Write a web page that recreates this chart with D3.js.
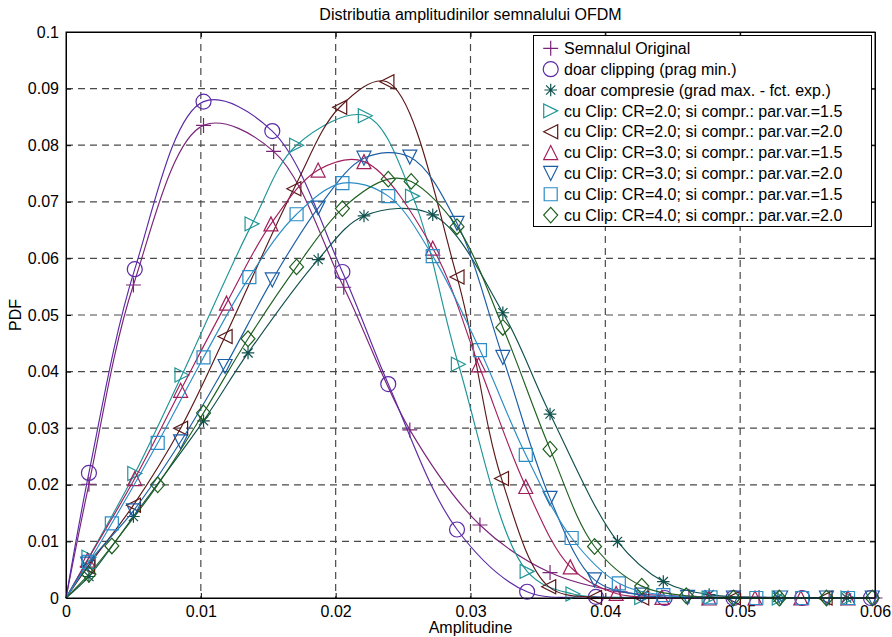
<!DOCTYPE html>
<html><head><meta charset="utf-8">
<script src="https://cdn.jsdelivr.net/npm/d3@7"></script>
<style>
body{margin:0;background:#fff}
text{font-family:"Liberation Sans",Arial,Helvetica,sans-serif;fill:#000}
</style>
</head><body>
<svg id="chart" width="892" height="637"></svg>
<script>
// ---------------- DATA ----------------
const xTickValues = [0, 0.01, 0.02, 0.03, 0.04, 0.05, 0.06];
const xTickLabels = ["0", "0.01", "0.02", "0.03", "0.04", "0.05", "0.06"];
const yTickValues = [0, 0.01, 0.02, 0.03, 0.04, 0.05, 0.06, 0.07, 0.08, 0.09, 0.1];
const yTickLabels = ["0", "0.01", "0.02", "0.03", "0.04", "0.05", "0.06", "0.07", "0.08", "0.09", "0.1"];

const seriesNames = [
  "Semnalul Original",
  "doar clipping (prag min.)",
  "doar compresie (grad max. - fct. exp.)",
  "cu Clip: CR=2.0; si compr.: par.var.=1.5",
  "cu Clip: CR=2.0; si compr.: par.var.=2.0",
  "cu Clip: CR=3.0; si compr.: par.var.=1.5",
  "cu Clip: CR=3.0; si compr.: par.var.=2.0",
  "cu Clip: CR=4.0; si compr.: par.var.=1.5",
  "cu Clip: CR=4.0; si compr.: par.var.=2.0"
];

const xOriginal = [0.0017, 0.0050, 0.0102, 0.0154, 0.0206, 0.0255, 0.0307, 0.0359, 0.0411, 0.0462, 0.0514, 0.0566, 0.0600];
const yOriginal = [0.0201, 0.0553, 0.0835, 0.0789, 0.0549, 0.0297, 0.0129, 0.0045, 0.0011, 0.0003, 0.0001, 0.0000, 0.0000];

const xClipping = [0.0017, 0.0051, 0.0102, 0.0153, 0.0205, 0.0239, 0.0290, 0.0342, 0.0393, 0.0444, 0.0495, 0.0546, 0.0597];
const yClipping = [0.0221, 0.0581, 0.0877, 0.0825, 0.0576, 0.0378, 0.0121, 0.0011, 0.0002, 0.0000, 0.0000, 0.0000, 0.0000];

const xCompresie = [0.0017, 0.0050, 0.0102, 0.0135, 0.0187, 0.0221, 0.0272, 0.0324, 0.0359, 0.0409, 0.0443, 0.0477, 0.0528, 0.0579];
const yCompresie = [0.0038, 0.0144, 0.0313, 0.0433, 0.0598, 0.0675, 0.0677, 0.0504, 0.0325, 0.0100, 0.0029, 0.0006, 0.0001, 0.0000];

const xCR2v15 = [0.0017, 0.0051, 0.0086, 0.0138, 0.0171, 0.0222, 0.0257, 0.0291, 0.0342, 0.0376, 0.0427, 0.0477, 0.0529, 0.0580];
const yCR2v15 = [0.0072, 0.0220, 0.0394, 0.0661, 0.0800, 0.0852, 0.0710, 0.0413, 0.0047, 0.0007, 0.0001, 0.0000, 0.0000, 0.0000];

const xCR2v20 = [0.0016, 0.0050, 0.0085, 0.0118, 0.0169, 0.0203, 0.0238, 0.0290, 0.0323, 0.0358, 0.0392, 0.0427, 0.0495, 0.0563];
const yCR2v20 = [0.0055, 0.0164, 0.0300, 0.0462, 0.0723, 0.0867, 0.0912, 0.0567, 0.0211, 0.0020, 0.0001, 0.0000, 0.0000, 0.0000];

const xCR3v15 = [0.0016, 0.0051, 0.0085, 0.0119, 0.0152, 0.0187, 0.0221, 0.0272, 0.0306, 0.0341, 0.0374, 0.0408, 0.0442, 0.0477, 0.0511, 0.0545, 0.0580];
const yCR3v15 = [0.0067, 0.0211, 0.0367, 0.0521, 0.0661, 0.0756, 0.0771, 0.0618, 0.0412, 0.0197, 0.0055, 0.0008, 0.0001, 0.0000, 0.0000, 0.0000, 0.0000];

const xCR3v20 = [0.0016, 0.0050, 0.0085, 0.0118, 0.0153, 0.0187, 0.0221, 0.0255, 0.0290, 0.0324, 0.0359, 0.0392, 0.0427, 0.0461, 0.0495, 0.0530, 0.0564, 0.0598];
const yCR3v20 = [0.0060, 0.0154, 0.0276, 0.0409, 0.0562, 0.0689, 0.0777, 0.0779, 0.0662, 0.0425, 0.0176, 0.0032, 0.0005, 0.0001, 0.0000, 0.0000, 0.0000, 0.0000];

const xCR4v15 = [0.0017, 0.0034, 0.0068, 0.0102, 0.0136, 0.0171, 0.0205, 0.0239, 0.0272, 0.0307, 0.0341, 0.0375, 0.0410, 0.0443, 0.0478, 0.0512, 0.0546, 0.0580];
const yCR4v15 = [0.0064, 0.0132, 0.0274, 0.0425, 0.0567, 0.0678, 0.0733, 0.0710, 0.0604, 0.0438, 0.0253, 0.0106, 0.0026, 0.0005, 0.0001, 0.0000, 0.0000, 0.0000];

const xCR4v20 = [0.0017, 0.0034, 0.0068, 0.0102, 0.0135, 0.0171, 0.0205, 0.0239, 0.0256, 0.0290, 0.0324, 0.0359, 0.0392, 0.0427, 0.0460, 0.0495, 0.0529, 0.0564, 0.0598];
const yCR4v20 = [0.0042, 0.0092, 0.0200, 0.0327, 0.0458, 0.0585, 0.0688, 0.0740, 0.0736, 0.0656, 0.0478, 0.0263, 0.0091, 0.0021, 0.0004, 0.0000, 0.0000, 0.0000, 0.0000];

// ---------------- STYLE ----------------
const seriesStyle = [
  {x: xOriginal,  y: yOriginal,  color: "#7a2479", marker: "plus"},
  {x: xClipping,  y: yClipping,  color: "#5b2aa6", marker: "circle"},
  {x: xCompresie, y: yCompresie, color: "#10504d", marker: "asterisk"},
  {x: xCR2v15,    y: yCR2v15,    color: "#1f9597", marker: "triRight"},
  {x: xCR2v20,    y: yCR2v20,    color: "#5a1717", marker: "triLeft"},
  {x: xCR3v15,    y: yCR3v15,    color: "#a21f5c", marker: "triUp"},
  {x: xCR3v20,    y: yCR3v20,    color: "#1c5ea6", marker: "triDown"},
  {x: xCR4v15,    y: yCR4v15,    color: "#2b8cc6", marker: "square"},
  {x: xCR4v20,    y: yCR4v20,    color: "#1e5f1f", marker: "diamond"}
];

function markerPath(type) {
  switch (type) {
    case "plus": { const s = 7.5; return `M${-s},0H${s}M0,${-s}V${s}`; }
    case "circle": { const r = 7.5; return `M${r},0A${r},${r} 0 1,1 ${-r},0A${r},${r} 0 1,1 ${r},0Z`; }
    case "asterisk": { const s = 6.3, d = 4.6; return `M${-s},0H${s}M0,${-s}V${s}M${-d},${-d}L${d},${d}M${-d},${d}L${d},${-d}`; }
    case "triRight": { const s = 7; return `M${s},0L${-s},${-s}L${-s},${s}Z`; }
    case "triLeft": { const s = 7; return `M${-s},0L${s},${-s}L${s},${s}Z`; }
    case "triUp": { const s = 7; return `M0,${-s}L${s},${s}L${-s},${s}Z`; }
    case "triDown": { const s = 7; return `M0,${s}L${s},${-s}L${-s},${-s}Z`; }
    case "square": { const s = 6.5; return `M${-s},${-s}H${s}V${s}H${-s}Z`; }
    case "diamond": { const w = 7, h = 7.8; return `M0,${-h}L${w},0L0,${h}L${-w},0Z`; }
  }
}

// ---------------- CHART ----------------
const plotLeft = 66, plotRight = 875, plotTop = 32, plotBottom = 598;
const svg = d3.select("#chart");

const xScale = d3.scaleLinear().domain([0, 0.06]).range([plotLeft, plotRight]);
const yScale = d3.scaleLinear().domain([0, 0.1]).range([plotBottom, plotTop]);

// grid
const grid = svg.append("g");
grid.selectAll("line.vg").data(xTickValues.slice(1, -1)).enter().append("line")
  .attr("x1", d => xScale(d)).attr("x2", d => xScale(d)).attr("y1", plotTop).attr("y2", plotBottom)
  .attr("stroke", "#4a4a4a").attr("stroke-width", 1.2).attr("stroke-dasharray", "7,5");
grid.selectAll("line.hg").data(yTickValues.slice(1, -1)).enter().append("line")
  .attr("x1", plotLeft).attr("x2", plotRight).attr("y1", d => yScale(d)).attr("y2", d => yScale(d))
  .attr("stroke", "#4a4a4a").attr("stroke-width", 1.2).attr("stroke-dasharray", "7,5");

// axes (ticks inward)
const fmtX = d => xTickLabels[xTickValues.indexOf(d)];
const fmtY = d => yTickLabels[yTickValues.indexOf(d)];
const axB = svg.append("g").attr("transform", `translate(0,${plotBottom})`)
  .call(d3.axisBottom(xScale).tickValues(xTickValues).tickFormat(fmtX).tickSize(-5).tickPadding(8));
const axT = svg.append("g").attr("transform", `translate(0,${plotTop})`)
  .call(d3.axisTop(xScale).tickValues(xTickValues).tickFormat("").tickSize(-5));
const axL = svg.append("g").attr("transform", `translate(${plotLeft},0)`)
  .call(d3.axisLeft(yScale).tickValues(yTickValues).tickFormat(fmtY).tickSize(-5).tickPadding(7));
const axR = svg.append("g").attr("transform", `translate(${plotRight},0)`)
  .call(d3.axisRight(yScale).tickValues(yTickValues).tickFormat("").tickSize(-5));
[axB, axT, axL, axR].forEach(g => {
  g.select(".domain").attr("stroke", "#000").attr("stroke-width", 1);
  g.selectAll(".tick line").attr("stroke", "#000");
  g.selectAll("text").attr("font-size", 16).attr("fill", "#000")
    .style("font-family", "'Liberation Sans', Arial, sans-serif");
});
axB.selectAll("text").attr("dy", "0.71em");

// series
const lineGen = d3.line().x(d => xScale(d[0])).y(d => yScale(d[1])).curve(d3.curveCatmullRom.alpha(0.5));
const plot = svg.append("g");
seriesStyle.forEach(s => {
  const pts = [[0, 0]].concat(s.x.map((v, i) => [v, s.y[i]]));
  const g = plot.append("g");
  g.append("path").attr("d", lineGen(pts)).attr("fill", "none")
    .attr("stroke", s.color).attr("stroke-width", 1.15);
  g.selectAll("path.m").data(s.x.map((v, i) => [v, s.y[i]])).enter().append("path")
    .attr("class", "m")
    .attr("transform", d => `translate(${xScale(d[0])},${yScale(d[1])})`)
    .attr("d", markerPath(s.marker))
    .attr("fill", "none").attr("stroke", s.color).attr("stroke-width", 1.2);
});

// re-draw box on top
svg.append("rect").attr("x", plotLeft).attr("y", plotTop).attr("width", plotRight - plotLeft).attr("height", plotBottom - plotTop)
  .attr("fill", "none").attr("stroke", "#000").attr("stroke-width", 1);

// legend
const lg = svg.append("g");
lg.append("rect").attr("x", 533.5).attr("y", 35.5).attr("width", 338).attr("height", 191)
  .attr("fill", "#fff").attr("stroke", "#000").attr("stroke-width", 1);
seriesNames.forEach((name, i) => {
  const cy = 48.3 + i * 20.85;
  lg.append("path").attr("transform", `translate(550.7,${cy})`).attr("d", markerPath(seriesStyle[i].marker))
    .attr("fill", "none").attr("stroke", seriesStyle[i].color).attr("stroke-width", 1.2);
  lg.append("text").attr("x", 564).attr("y", cy).attr("dy", "0.36em").attr("font-size", 16).text(name);
});

// titles
svg.append("text").attr("x", (plotLeft + plotRight) / 2).attr("y", 20).attr("text-anchor", "middle")
  .attr("font-size", 16).text("Distributia amplitudinilor semnalului OFDM");
svg.append("text").attr("x", (plotLeft + plotRight) / 2).attr("y", 633).attr("text-anchor", "middle")
  .attr("font-size", 16).text("Amplitudine");
svg.append("text").attr("transform", `translate(21,${(plotTop + plotBottom) / 2}) rotate(-90)`)
  .attr("text-anchor", "middle").attr("font-size", 16).text("PDF");
</script>
</body></html>
